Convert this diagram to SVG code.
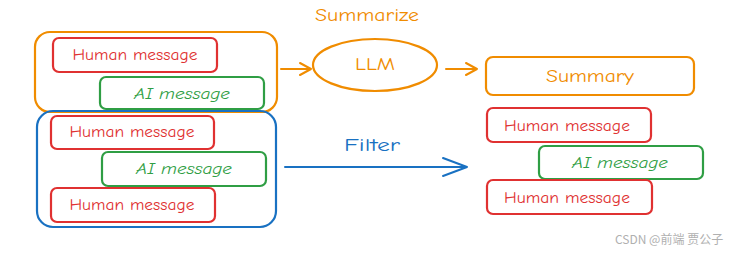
<svg xmlns="http://www.w3.org/2000/svg" width="744" height="255" viewBox="0 0 744 255">
<style>
.box{fill:none;stroke-width:2.2;stroke-linejoin:round}
.o{stroke:#f08c00}.r{stroke:#e03131}.g{stroke:#2f9e44}.b{stroke:#1971c2}
.t{font-family:"Comic Neue","Liberation Sans",sans-serif;font-size:15px;text-anchor:middle;dominant-baseline:central}
.to{fill:#f08c00}.tr{fill:#e03131}.tg{fill:#2f9e44;font-style:italic}.tb{fill:#1971c2}
.lbl{font-size:18px}
.conn{fill:none;stroke-width:2;stroke-linecap:round;stroke-linejoin:round}
.wm{font-family:"Noto Sans CJK SC","Liberation Sans",sans-serif;font-size:12px;fill:#b0b0b0}
</style>
<rect width="744" height="255" fill="#ffffff"/>
<g id="group-summarize">
<rect class="box o" x="35" y="32" width="242" height="80" rx="15"/>
</g>
<g id="group-filter">
<rect class="box b" x="37" y="111" width="239" height="116" rx="16"/>
</g>
<g id="human1">
<rect class="box r" x="53" y="38" width="164" height="34" rx="6"/>
<text class="t tr" x="135" y="55" textLength="125" lengthAdjust="spacingAndGlyphs">Human message</text>
</g>
<g id="ai1">
<rect class="box g" x="100" y="77" width="164" height="32" rx="6"/>
<text class="t tg" x="182" y="94" textLength="96" lengthAdjust="spacingAndGlyphs">AI message</text>
</g>
<g id="human2">
<rect class="box r" x="51" y="116" width="163" height="33" rx="6"/>
<text class="t tr" x="132" y="132" textLength="125" lengthAdjust="spacingAndGlyphs">Human message</text>
</g>
<g id="ai2">
<rect class="box g" x="102" y="152" width="164" height="34" rx="6"/>
<text class="t tg" x="184" y="169" textLength="96" lengthAdjust="spacingAndGlyphs">AI message</text>
</g>
<g id="human3">
<rect class="box r" x="51" y="188" width="164" height="34" rx="6"/>
<text class="t tr" x="132" y="205" textLength="125" lengthAdjust="spacingAndGlyphs">Human message</text>
</g>
<g id="llm">
<ellipse class="box o" cx="375" cy="65" rx="62" ry="26"/>
<text class="t to lbl" x="375" y="64" textLength="40" lengthAdjust="spacingAndGlyphs">LLM</text>
</g>
<g id="summary">
<rect class="box o" x="486" y="57" width="208" height="38" rx="7"/>
<text class="t to lbl" x="590" y="76" textLength="88" lengthAdjust="spacingAndGlyphs">Summary</text>
</g>
<g id="human-r1">
<rect class="box r" x="487" y="108" width="164" height="34" rx="6"/>
<text class="t tr" x="567" y="126" textLength="126" lengthAdjust="spacingAndGlyphs">Human message</text>
</g>
<g id="ai-r">
<rect class="box g" x="539" y="146" width="164" height="33" rx="6"/>
<text class="t tg" x="620" y="163" textLength="96" lengthAdjust="spacingAndGlyphs">AI message</text>
</g>
<g id="human-r2">
<rect class="box r" x="487" y="180" width="165" height="34" rx="6"/>
<text class="t tr" x="567" y="198" textLength="126" lengthAdjust="spacingAndGlyphs">Human message</text>
</g>
<g id="connectors">
<path class="conn o" d="M281 69 L311 69 M300 63 L311 69 L300 75"/>
<path class="conn o" d="M446 69 L477 69 M466 63 L477 69 L466 75"/>
<path class="conn b" d="M285 167 L467 167 M443 158 L467 167 L443 176" stroke-width="2.5"/>
<text class="t to lbl" x="367" y="15" textLength="104" lengthAdjust="spacingAndGlyphs">Summarize</text>
<text class="t tb lbl" x="372" y="145" textLength="56" lengthAdjust="spacingAndGlyphs">Filter</text>
</g>
<text class="wm" x="615" y="244">CSDN @前端 贾公子</text>
</svg>
